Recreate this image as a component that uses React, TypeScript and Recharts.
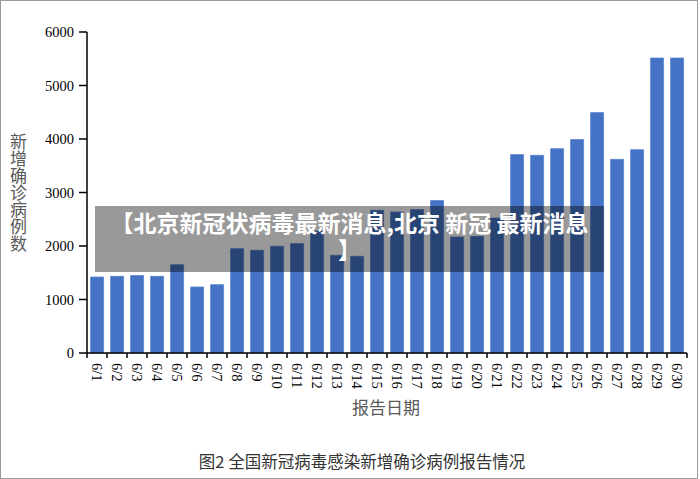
import React from 'react';
import { BarChart, Bar, XAxis, YAxis } from 'recharts';

const dates = ['6/1','6/2','6/3','6/4','6/5','6/6','6/7','6/8','6/9','6/10','6/11','6/12','6/13','6/14','6/15','6/16','6/17','6/18','6/19','6/20','6/21','6/22','6/23','6/24','6/25','6/26','6/27','6/28','6/29','6/30'];
const newCases = [1420,1433,1447,1433,1650,1234,1278,1950,1920,1995,2045,2280,1826,1807,2668,2636,2680,2850,2168,2180,2523,3708,3695,3820,3989,4493,3620,3800,5514,5514];
const yTicks = [0,1000,2000,3000,4000,5000,6000];

const yLabel = '新增确诊病例数';
const xLabel = '报告日期';
const caption = '图2 全国新冠病毒感染新增确诊病例报告情况';
const bannerLine1 = '【北京新冠状病毒最新消息,北京 新冠 最新消息';
const bannerLine2 = '】';

const data = dates.map((d, i) => ({ date: d, value: newCases[i] }));

const serif = '"Liberation Serif", "DejaVu Serif", serif';
const cjk = '"Noto Sans CJK SC", "Noto Sans", sans-serif';

const XTick = (props: any) => {
  const { x, y, payload, index, visibleTicksCount, width } = props;
  const band = width && visibleTicksCount ? width / visibleTicksCount : 20;
  const left = x - band / 2;
  const right = x + band / 2;
  return (
    <g>
      <line x1={left} x2={left} y1={y} y2={y + 5} stroke="#000" strokeWidth={1.5} />
      {index === visibleTicksCount - 1 && (
        <line x1={right} x2={right} y1={y} y2={y + 5} stroke="#000" strokeWidth={1.5} />
      )}
      <text
        transform={`translate(${x},${y + 10}) rotate(90)`}
        textAnchor="start"
        dominantBaseline="central"
        fontFamily={serif}
        fontSize={14.5}
        fill="#000"
      >
        {payload.value}
      </text>
    </g>
  );
};

export default function App() {
  return (
    <div style={{ position: 'absolute', left: 0, top: 0, width: 700, height: 479, background: '#fff' }}>
      <div style={{ position: 'absolute', left: 0, top: 0, width: 696, height: 477, border: '1px solid #9a9a9a' }} />
      <BarChart
        width={700}
        height={479}
        data={data}
        margin={{ top: 32, right: 13, bottom: 86, left: 0 }}
        barCategoryGap="18%"
      >
        <XAxis
          dataKey="date"
          interval={0}
          height={40}
          tickLine={false}
          tickSize={0}
          tickMargin={0}
          axisLine={{ stroke: '#000', strokeWidth: 1.5 }}
          tick={<XTick />}
        />
        <YAxis
          width={87}
          domain={[0, 6000]}
          ticks={yTicks}
          interval={0}
          tickSize={8}
          tickMargin={5}
          axisLine={{ stroke: '#000', strokeWidth: 1.5 }}
          tickLine={{ stroke: '#000', strokeWidth: 1.5 }}
          tick={{ fontFamily: serif, fontSize: 14.5, fill: '#000' }}
        />
        <Bar dataKey="value" fill="#4472C4" stroke="#5b84cf" strokeWidth={0.8} isAnimationActive={false} />
      </BarChart>
      <div
        style={{
          position: 'absolute', left: 9, top: 133, writingMode: 'vertical-rl',
          fontFamily: cjk, fontSize: 17, lineHeight: '18px', color: '#595959',
        }}
      >
        {yLabel}
      </div>
      <div
        style={{
          position: 'absolute', left: 286, width: 200, top: 396, textAlign: 'center',
          fontFamily: cjk, fontSize: 17, lineHeight: '22px', color: '#595959',
        }}
      >
        {xLabel}
      </div>
      <div
        style={{
          position: 'absolute', left: 112, width: 500, top: 450, textAlign: 'center',
          fontFamily: cjk, fontSize: 16.5, lineHeight: '22px', color: '#333',
        }}
      >
        {caption}
      </div>
      <div
        style={{
          position: 'absolute', left: 95, top: 206, width: 509, height: 66,
          background: 'rgba(0,0,0,0.4)', color: '#fff', textAlign: 'center',
          fontFamily: cjk, fontWeight: 'bold', fontSize: 23, lineHeight: '27px',
          paddingTop: 3, boxSizing: 'border-box', whiteSpace: 'nowrap',
        }}
      >
        <div>{bannerLine1}</div>
        <div>{bannerLine2}</div>
      </div>
    </div>
  );
}
